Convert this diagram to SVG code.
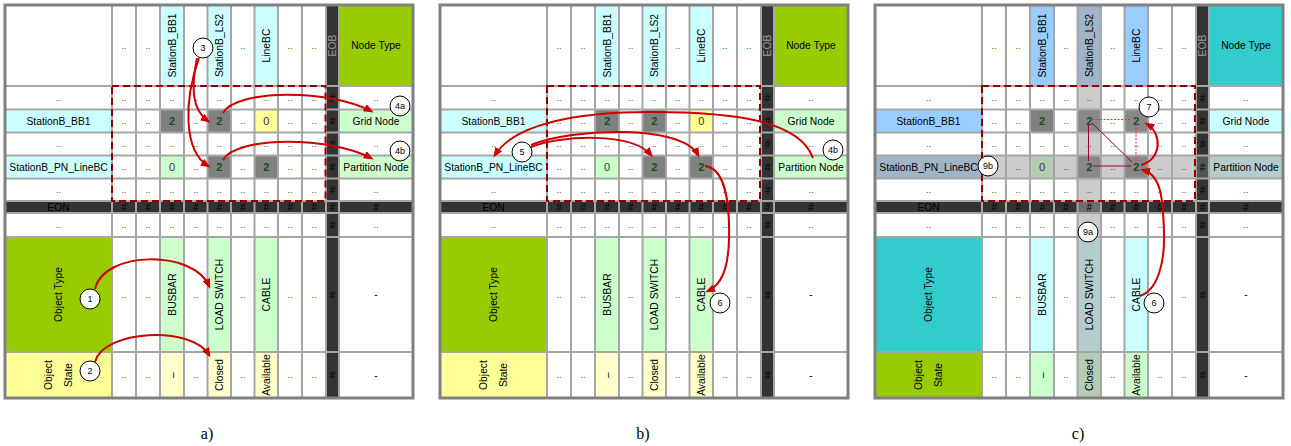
<svg xmlns="http://www.w3.org/2000/svg" width="1291" height="446" viewBox="0 0 1291 446">
<style>
text{font-family:"Liberation Sans",Arial,sans-serif;text-anchor:middle;dominant-baseline:central}
.t{font-size:10.3px;fill:#000}
.d{font-size:9px;fill:#444}
.h{font-size:10px;fill:#000}
.eob{fill:#999}
.n2{font-size:11px;font-weight:bold;fill:#1a4d1a}
.n0{font-size:11px;fill:#333}
.border{fill:none;stroke:#808080;stroke-width:3}
.dash{fill:none;stroke:#8b0000;stroke-width:2;stroke-dasharray:7 4}
.arr{fill:none;stroke:#cc0000;stroke-width:2;marker-end:url(#ah)}
.co circle{fill:#fff;stroke:#000;stroke-width:1}
.co text{font-size:9px;fill:#000}
.cap{font-family:"Liberation Serif","Times New Roman",serif;font-size:16px;fill:#000}
</style>
<defs>
<marker id="ah" markerWidth="10" markerHeight="8" refX="7" refY="4" orient="auto" markerUnits="userSpaceOnUse"><path d="M0,0 L10,4 L0,8 z" fill="#cc0000"/></marker>
<path id="gridpath" fill="none" stroke="#a6a6a6" stroke-width="2" d="M112,5V398M136,5V398M160,5V398M184,5V398M207.5,5V398M231,5V398M254.5,5V398M278,5V398M302,5V398M326,5V398M339,5V398M5,86H413M5,109.5H413M5,132.5H413M5,155.5H413M5,178.5H413M5,201H413M5,213H413M5,237H413M5,352H413"/>
</defs>

<!-- ===== Panel a ===== -->
<g id="panel-a">
<g id="a-fills">
<rect x="5" y="5" width="408" height="393" fill="#fff"/>
<rect x="160" y="5" width="24" height="81" fill="#ccffff"/>
<rect x="207.5" y="5" width="23.5" height="81" fill="#ccffff"/>
<rect x="254.5" y="5" width="23.5" height="81" fill="#ccffff"/>
<rect x="326" y="5" width="13" height="393" fill="#333"/>
<rect x="339" y="5" width="74" height="81" fill="#99cc00"/>
<rect x="5" y="109.5" width="107" height="23" fill="#ccffff"/>
<rect x="5" y="155.5" width="107" height="23" fill="#ccffff"/>
<rect x="160" y="109.5" width="24" height="23" fill="#808080"/>
<rect x="207.5" y="109.5" width="23.5" height="23" fill="#808080"/>
<rect x="254.5" y="109.5" width="23.5" height="23" fill="#ffff99"/>
<rect x="160" y="155.5" width="24" height="23" fill="#ccffcc"/>
<rect x="207.5" y="155.5" width="23.5" height="23" fill="#808080"/>
<rect x="254.5" y="155.5" width="23.5" height="23" fill="#808080"/>
<rect x="339" y="109.5" width="74" height="23" fill="#ccffcc"/>
<rect x="339" y="155.5" width="74" height="23" fill="#ccffcc"/>
<rect x="5" y="201" width="408" height="12" fill="#333"/>
<rect x="5" y="237" width="107" height="115" fill="#99cc00"/>
<rect x="160" y="237" width="24" height="115" fill="#ccffcc"/>
<rect x="207.5" y="237" width="23.5" height="115" fill="#ccffcc"/>
<rect x="254.5" y="237" width="23.5" height="115" fill="#ccffcc"/>
<rect x="5" y="352" width="107" height="46" fill="#ffff99"/>
<rect x="160" y="352" width="24" height="46" fill="#ffffcc"/>
<rect x="207.5" y="352" width="23.5" height="46" fill="#ffffcc"/>
<rect x="254.5" y="352" width="23.5" height="46" fill="#ffffcc"/>
</g>
<use href="#gridpath"/>
<rect class="border" x="5" y="5" width="408" height="393"/>
<g id="a-text">
<text class="d" y="45.5"><tspan x="124">..</tspan><tspan x="148">..</tspan><tspan x="195.75">..</tspan><tspan x="242.75">..</tspan><tspan x="290">..</tspan><tspan x="314">..</tspan></text>
<text class="t" x="172" y="45.5" transform="rotate(-90 172 45.5)">StationB_BB1</text>
<text class="t" x="219.25" y="45.5" transform="rotate(-90 219.25 45.5)">StationB_LS2</text>
<text class="t" x="266.25" y="45.5" transform="rotate(-90 266.25 45.5)">LineBC</text>
<text class="t eob" x="332.5" y="45.5" transform="rotate(-90 332.5 45.5)">EOB</text>
<text class="t" x="376" y="45.5">Node Type</text>
<text class="d" y="97.75"><tspan x="58.5">..</tspan><tspan x="124">..</tspan><tspan x="148">..</tspan><tspan x="172">..</tspan><tspan x="195.75">..</tspan><tspan x="219.25">..</tspan><tspan x="242.75">..</tspan><tspan x="266.25">..</tspan><tspan x="290">..</tspan><tspan x="314">..</tspan><tspan x="376">..</tspan></text>
<text class="d" y="144"><tspan x="58.5">..</tspan><tspan x="124">..</tspan><tspan x="148">..</tspan><tspan x="172">..</tspan><tspan x="195.75">..</tspan><tspan x="219.25">..</tspan><tspan x="242.75">..</tspan><tspan x="266.25">..</tspan><tspan x="290">..</tspan><tspan x="314">..</tspan><tspan x="376">..</tspan></text>
<text class="d" y="189.75"><tspan x="58.5">..</tspan><tspan x="124">..</tspan><tspan x="148">..</tspan><tspan x="172">..</tspan><tspan x="195.75">..</tspan><tspan x="219.25">..</tspan><tspan x="242.75">..</tspan><tspan x="266.25">..</tspan><tspan x="290">..</tspan><tspan x="314">..</tspan><tspan x="376">..</tspan></text>
<text class="d" y="225"><tspan x="58.5">..</tspan><tspan x="124">..</tspan><tspan x="148">..</tspan><tspan x="172">..</tspan><tspan x="195.75">..</tspan><tspan x="219.25">..</tspan><tspan x="242.75">..</tspan><tspan x="266.25">..</tspan><tspan x="290">..</tspan><tspan x="314">..</tspan><tspan x="376">..</tspan></text>
<text class="d" y="121"><tspan x="124">..</tspan><tspan x="148">..</tspan><tspan x="195.75">..</tspan><tspan x="242.75">..</tspan><tspan x="290">..</tspan><tspan x="314">..</tspan></text>
<text class="d" y="167"><tspan x="124">..</tspan><tspan x="148">..</tspan><tspan x="195.75">..</tspan><tspan x="242.75">..</tspan><tspan x="290">..</tspan><tspan x="314">..</tspan></text>
<text class="d" y="294.5"><tspan x="124">..</tspan><tspan x="148">..</tspan><tspan x="195.75">..</tspan><tspan x="242.75">..</tspan><tspan x="290">..</tspan><tspan x="314">..</tspan></text>
<text class="d" y="375"><tspan x="124">..</tspan><tspan x="148">..</tspan><tspan x="195.75">..</tspan><tspan x="242.75">..</tspan><tspan x="290">..</tspan><tspan x="314">..</tspan></text>
<text class="t" x="58.5" y="121">StationB_BB1</text>
<text class="n2" x="172" y="121">2</text>
<text class="n2" x="219.25" y="121">2</text>
<text class="n0" x="266.25" y="121">0</text>
<text class="t" x="376" y="121">Grid Node</text>
<text class="t" x="58.5" y="167">StationB_PN_LineBC</text>
<text class="n0" x="172" y="167">0</text>
<text class="n2" x="219.25" y="167">2</text>
<text class="n2" x="266.25" y="167">2</text>
<text class="t" x="376" y="167">Partition Node</text>
<text class="h"><tspan x="332.5" y="97.75">#</tspan><tspan x="332.5" y="121">#</tspan><tspan x="332.5" y="144">#</tspan><tspan x="332.5" y="167">#</tspan><tspan x="332.5" y="189.75">#</tspan><tspan x="332.5" y="225">#</tspan><tspan x="332.5" y="294.5">#</tspan><tspan x="332.5" y="375">#</tspan></text>
<text class="t" x="58.5" y="207">EON</text>
<text class="h" y="207"><tspan x="124">#</tspan><tspan x="148">#</tspan><tspan x="172">#</tspan><tspan x="195.75">#</tspan><tspan x="219.25">#</tspan><tspan x="242.75">#</tspan><tspan x="266.25">#</tspan><tspan x="290">#</tspan><tspan x="314">#</tspan><tspan x="332.5">#</tspan><tspan x="376">#</tspan></text>
<text class="t" x="58.5" y="294.5" transform="rotate(-90 58.5 294.5)">Object Type</text>
<text class="t" x="172" y="294.5" transform="rotate(-90 172 294.5)">BUSBAR</text>
<text class="t" x="219.25" y="294.5" transform="rotate(-90 219.25 294.5)">LOAD SWITCH</text>
<text class="t" x="266.25" y="294.5" transform="rotate(-90 266.25 294.5)">CABLE</text>
<text class="t" x="376" y="294.5">-</text>
<text class="t" x="48" y="375" transform="rotate(-90 48 375)">Object</text>
<text class="t" x="68" y="375" transform="rotate(-90 68 375)">State</text>
<text class="t" x="172" y="375" transform="rotate(-90 172 375)">–</text>
<text class="t" x="219.25" y="375" transform="rotate(-90 219.25 375)">Closed</text>
<text class="t" x="266.25" y="375" transform="rotate(-90 266.25 375)">Available</text>
<text class="t" x="376" y="375">-</text>
</g>
<rect class="dash" x="112" y="86" width="213.5" height="115"/>
</g>

<!-- ===== Panel b ===== -->
<g id="panel-b" transform="translate(435,0)">
<g id="b-fills">
<rect x="5" y="5" width="408" height="393" fill="#fff"/>
<rect x="160" y="5" width="24" height="81" fill="#ccffff"/>
<rect x="207.5" y="5" width="23.5" height="81" fill="#ccffff"/>
<rect x="254.5" y="5" width="23.5" height="81" fill="#ccffff"/>
<rect x="326" y="5" width="13" height="393" fill="#333"/>
<rect x="339" y="5" width="74" height="81" fill="#99cc00"/>
<rect x="5" y="109.5" width="107" height="23" fill="#ccffff"/>
<rect x="5" y="155.5" width="107" height="23" fill="#ccffff"/>
<rect x="160" y="109.5" width="24" height="23" fill="#808080"/>
<rect x="207.5" y="109.5" width="23.5" height="23" fill="#808080"/>
<rect x="254.5" y="109.5" width="23.5" height="23" fill="#ffff99"/>
<rect x="160" y="155.5" width="24" height="23" fill="#ccffcc"/>
<rect x="207.5" y="155.5" width="23.5" height="23" fill="#808080"/>
<rect x="254.5" y="155.5" width="23.5" height="23" fill="#808080"/>
<rect x="339" y="109.5" width="74" height="23" fill="#ccffcc"/>
<rect x="339" y="155.5" width="74" height="23" fill="#ccffcc"/>
<rect x="5" y="201" width="408" height="12" fill="#333"/>
<rect x="5" y="237" width="107" height="115" fill="#99cc00"/>
<rect x="160" y="237" width="24" height="115" fill="#ccffcc"/>
<rect x="207.5" y="237" width="23.5" height="115" fill="#ccffcc"/>
<rect x="254.5" y="237" width="23.5" height="115" fill="#ccffcc"/>
<rect x="5" y="352" width="107" height="46" fill="#ffff99"/>
<rect x="160" y="352" width="24" height="46" fill="#ffffcc"/>
<rect x="207.5" y="352" width="23.5" height="46" fill="#ffffcc"/>
<rect x="254.5" y="352" width="23.5" height="46" fill="#ffffcc"/>
</g>
<use href="#gridpath"/>
<rect class="border" x="5" y="5" width="408" height="393"/>
<g id="b-text">
<text class="d" y="45.5"><tspan x="124">..</tspan><tspan x="148">..</tspan><tspan x="195.75">..</tspan><tspan x="242.75">..</tspan><tspan x="290">..</tspan><tspan x="314">..</tspan></text>
<text class="t" x="172" y="45.5" transform="rotate(-90 172 45.5)">StationB_BB1</text>
<text class="t" x="219.25" y="45.5" transform="rotate(-90 219.25 45.5)">StationB_LS2</text>
<text class="t" x="266.25" y="45.5" transform="rotate(-90 266.25 45.5)">LineBC</text>
<text class="t eob" x="332.5" y="45.5" transform="rotate(-90 332.5 45.5)">EOB</text>
<text class="t" x="376" y="45.5">Node Type</text>
<text class="d" y="97.75"><tspan x="58.5">..</tspan><tspan x="124">..</tspan><tspan x="148">..</tspan><tspan x="172">..</tspan><tspan x="195.75">..</tspan><tspan x="219.25">..</tspan><tspan x="242.75">..</tspan><tspan x="266.25">..</tspan><tspan x="290">..</tspan><tspan x="314">..</tspan><tspan x="376">..</tspan></text>
<text class="d" y="144"><tspan x="58.5">..</tspan><tspan x="124">..</tspan><tspan x="148">..</tspan><tspan x="172">..</tspan><tspan x="195.75">..</tspan><tspan x="219.25">..</tspan><tspan x="242.75">..</tspan><tspan x="266.25">..</tspan><tspan x="290">..</tspan><tspan x="314">..</tspan><tspan x="376">..</tspan></text>
<text class="d" y="189.75"><tspan x="58.5">..</tspan><tspan x="124">..</tspan><tspan x="148">..</tspan><tspan x="172">..</tspan><tspan x="195.75">..</tspan><tspan x="219.25">..</tspan><tspan x="242.75">..</tspan><tspan x="266.25">..</tspan><tspan x="290">..</tspan><tspan x="314">..</tspan><tspan x="376">..</tspan></text>
<text class="d" y="225"><tspan x="58.5">..</tspan><tspan x="124">..</tspan><tspan x="148">..</tspan><tspan x="172">..</tspan><tspan x="195.75">..</tspan><tspan x="219.25">..</tspan><tspan x="242.75">..</tspan><tspan x="266.25">..</tspan><tspan x="290">..</tspan><tspan x="314">..</tspan><tspan x="376">..</tspan></text>
<text class="d" y="121"><tspan x="124">..</tspan><tspan x="148">..</tspan><tspan x="195.75">..</tspan><tspan x="242.75">..</tspan><tspan x="290">..</tspan><tspan x="314">..</tspan></text>
<text class="d" y="167"><tspan x="124">..</tspan><tspan x="148">..</tspan><tspan x="195.75">..</tspan><tspan x="242.75">..</tspan><tspan x="290">..</tspan><tspan x="314">..</tspan></text>
<text class="d" y="294.5"><tspan x="124">..</tspan><tspan x="148">..</tspan><tspan x="195.75">..</tspan><tspan x="242.75">..</tspan><tspan x="290">..</tspan><tspan x="314">..</tspan></text>
<text class="d" y="375"><tspan x="124">..</tspan><tspan x="148">..</tspan><tspan x="195.75">..</tspan><tspan x="242.75">..</tspan><tspan x="290">..</tspan><tspan x="314">..</tspan></text>
<text class="t" x="58.5" y="121">StationB_BB1</text>
<text class="n2" x="172" y="121">2</text>
<text class="n2" x="219.25" y="121">2</text>
<text class="n0" x="266.25" y="121">0</text>
<text class="t" x="376" y="121">Grid Node</text>
<text class="t" x="58.5" y="167">StationB_PN_LineBC</text>
<text class="n0" x="172" y="167">0</text>
<text class="n2" x="219.25" y="167">2</text>
<text class="n2" x="266.25" y="167">2</text>
<text class="t" x="376" y="167">Partition Node</text>
<text class="h"><tspan x="332.5" y="97.75">#</tspan><tspan x="332.5" y="121">#</tspan><tspan x="332.5" y="144">#</tspan><tspan x="332.5" y="167">#</tspan><tspan x="332.5" y="189.75">#</tspan><tspan x="332.5" y="225">#</tspan><tspan x="332.5" y="294.5">#</tspan><tspan x="332.5" y="375">#</tspan></text>
<text class="t" x="58.5" y="207">EON</text>
<text class="h" y="207"><tspan x="124">#</tspan><tspan x="148">#</tspan><tspan x="172">#</tspan><tspan x="195.75">#</tspan><tspan x="219.25">#</tspan><tspan x="242.75">#</tspan><tspan x="266.25">#</tspan><tspan x="290">#</tspan><tspan x="314">#</tspan><tspan x="332.5">#</tspan><tspan x="376">#</tspan></text>
<text class="t" x="58.5" y="294.5" transform="rotate(-90 58.5 294.5)">Object Type</text>
<text class="t" x="172" y="294.5" transform="rotate(-90 172 294.5)">BUSBAR</text>
<text class="t" x="219.25" y="294.5" transform="rotate(-90 219.25 294.5)">LOAD SWITCH</text>
<text class="t" x="266.25" y="294.5" transform="rotate(-90 266.25 294.5)">CABLE</text>
<text class="t" x="376" y="294.5">-</text>
<text class="t" x="48" y="375" transform="rotate(-90 48 375)">Object</text>
<text class="t" x="68" y="375" transform="rotate(-90 68 375)">State</text>
<text class="t" x="172" y="375" transform="rotate(-90 172 375)">–</text>
<text class="t" x="219.25" y="375" transform="rotate(-90 219.25 375)">Closed</text>
<text class="t" x="266.25" y="375" transform="rotate(-90 266.25 375)">Available</text>
<text class="t" x="376" y="375">-</text>
</g>
<rect class="dash" x="112" y="86" width="213" height="115"/>
</g>

<!-- ===== Panel c ===== -->
<g id="panel-c" transform="translate(870,0)">
<g id="c-fills">
<rect x="5" y="5" width="408" height="393" fill="#fff"/>
<rect x="160" y="5" width="24" height="81" fill="#99ccff"/>
<rect x="207.5" y="5" width="23.5" height="81" fill="#a0b4c8"/>
<rect x="254.5" y="5" width="23.5" height="81" fill="#99ccff"/>
<rect x="207.5" y="86" width="23.5" height="115" fill="#cccccc"/>
<rect x="207.5" y="213" width="23.5" height="24" fill="#cccccc"/>
<rect x="112" y="155.5" width="214" height="23" fill="#cccccc"/>
<rect x="326" y="5" width="13" height="393" fill="#333"/>
<rect x="339" y="5" width="74" height="81" fill="#33cccc"/>
<rect x="5" y="109.5" width="107" height="23" fill="#99ccff"/>
<rect x="5" y="155.5" width="107" height="23" fill="#a0b4c8"/>
<rect x="160" y="109.5" width="24" height="23" fill="#808080"/>
<rect x="207.5" y="109.5" width="23.5" height="23" fill="#888888"/>
<rect x="254.5" y="109.5" width="23.5" height="23" fill="#888888"/>
<rect x="160" y="155.5" width="24" height="23" fill="#b3ccb3"/>
<rect x="207.5" y="155.5" width="23.5" height="23" fill="#888888"/>
<rect x="254.5" y="155.5" width="23.5" height="23" fill="#888888"/>
<rect x="339" y="109.5" width="74" height="23" fill="#ccffff"/>
<rect x="339" y="155.5" width="74" height="23" fill="#b3cccc"/>
<rect x="5" y="201" width="408" height="12" fill="#333"/>
<rect x="207.5" y="201" width="23.5" height="12" fill="#6e6e6e"/>
<rect x="326" y="155.5" width="13" height="23" fill="#555"/>
<rect x="5" y="237" width="107" height="115" fill="#33cccc"/>
<rect x="160" y="237" width="24" height="115" fill="#ccffff"/>
<rect x="207.5" y="237" width="23.5" height="115" fill="#b3cccc"/>
<rect x="254.5" y="237" width="23.5" height="115" fill="#ccffff"/>
<rect x="5" y="352" width="107" height="46" fill="#99cc00"/>
<rect x="160" y="352" width="24" height="46" fill="#ccffcc"/>
<rect x="207.5" y="352" width="23.5" height="46" fill="#b3ccb3"/>
<rect x="254.5" y="352" width="23.5" height="46" fill="#ccffcc"/>
</g>
<use href="#gridpath"/>
<rect class="border" x="5" y="5" width="408" height="393"/>
<g id="c-text">
<text class="d" y="45.5"><tspan x="124">..</tspan><tspan x="148">..</tspan><tspan x="195.75">..</tspan><tspan x="242.75">..</tspan><tspan x="290">..</tspan><tspan x="314">..</tspan></text>
<text class="t" x="172" y="45.5" transform="rotate(-90 172 45.5)">StationB_BB1</text>
<text class="t" x="219.25" y="45.5" transform="rotate(-90 219.25 45.5)">StationB_LS2</text>
<text class="t" x="266.25" y="45.5" transform="rotate(-90 266.25 45.5)">LineBC</text>
<text class="t eob" x="332.5" y="45.5" transform="rotate(-90 332.5 45.5)">EOB</text>
<text class="t" x="376" y="45.5">Node Type</text>
<text class="d" y="97.75"><tspan x="58.5">..</tspan><tspan x="124">..</tspan><tspan x="148">..</tspan><tspan x="172">..</tspan><tspan x="195.75">..</tspan><tspan x="219.25">..</tspan><tspan x="242.75">..</tspan><tspan x="266.25">..</tspan><tspan x="290">..</tspan><tspan x="314">..</tspan><tspan x="376">..</tspan></text>
<text class="d" y="144"><tspan x="58.5">..</tspan><tspan x="124">..</tspan><tspan x="148">..</tspan><tspan x="172">..</tspan><tspan x="195.75">..</tspan><tspan x="219.25">..</tspan><tspan x="242.75">..</tspan><tspan x="266.25">..</tspan><tspan x="290">..</tspan><tspan x="314">..</tspan><tspan x="376">..</tspan></text>
<text class="d" y="189.75"><tspan x="58.5">..</tspan><tspan x="124">..</tspan><tspan x="148">..</tspan><tspan x="172">..</tspan><tspan x="195.75">..</tspan><tspan x="219.25">..</tspan><tspan x="242.75">..</tspan><tspan x="266.25">..</tspan><tspan x="290">..</tspan><tspan x="314">..</tspan><tspan x="376">..</tspan></text>
<text class="d" y="225"><tspan x="58.5">..</tspan><tspan x="124">..</tspan><tspan x="148">..</tspan><tspan x="172">..</tspan><tspan x="195.75">..</tspan><tspan x="242.75">..</tspan><tspan x="266.25">..</tspan><tspan x="290">..</tspan><tspan x="314">..</tspan><tspan x="376">..</tspan></text>
<text class="d" y="121"><tspan x="124">..</tspan><tspan x="148">..</tspan><tspan x="195.75">..</tspan><tspan x="242.75">..</tspan><tspan x="290">..</tspan><tspan x="314">..</tspan></text>
<text class="d" y="167"><tspan x="124">..</tspan><tspan x="148">..</tspan><tspan x="195.75">..</tspan><tspan x="242.75">..</tspan><tspan x="290">..</tspan><tspan x="314">..</tspan></text>
<text class="d" y="294.5"><tspan x="124">..</tspan><tspan x="148">..</tspan><tspan x="195.75">..</tspan><tspan x="242.75">..</tspan><tspan x="290">..</tspan><tspan x="314">..</tspan></text>
<text class="d" y="375"><tspan x="124">..</tspan><tspan x="148">..</tspan><tspan x="195.75">..</tspan><tspan x="242.75">..</tspan><tspan x="290">..</tspan><tspan x="314">..</tspan></text>
<text class="t" x="58.5" y="121">StationB_BB1</text>
<text class="n2" x="172" y="121">2</text>
<text class="n2" x="219.25" y="121">2</text>
<text class="n2" x="266.25" y="121">2</text>
<text class="t" x="376" y="121">Grid Node</text>
<text class="t" x="58.5" y="167">StationB_PN_LineBC</text>
<text class="n0" x="172" y="167">0</text>
<text class="n2" x="219.25" y="167">2</text>
<text class="n2" x="266.25" y="167">2</text>
<text class="t" x="376" y="167">Partition Node</text>
<text class="h"><tspan x="332.5" y="97.75">#</tspan><tspan x="332.5" y="121">#</tspan><tspan x="332.5" y="144">#</tspan><tspan x="332.5" y="167">#</tspan><tspan x="332.5" y="189.75">#</tspan><tspan x="332.5" y="225">#</tspan><tspan x="332.5" y="294.5">#</tspan><tspan x="332.5" y="375">#</tspan></text>
<text class="t" x="58.5" y="207">EON</text>
<text class="h" y="207"><tspan x="124">#</tspan><tspan x="148">#</tspan><tspan x="172">#</tspan><tspan x="195.75">#</tspan><tspan x="219.25">#</tspan><tspan x="242.75">#</tspan><tspan x="266.25">#</tspan><tspan x="290">#</tspan><tspan x="314">#</tspan><tspan x="332.5">#</tspan><tspan x="376">#</tspan></text>
<text class="t" x="58.5" y="294.5" transform="rotate(-90 58.5 294.5)">Object Type</text>
<text class="t" x="172" y="294.5" transform="rotate(-90 172 294.5)">BUSBAR</text>
<text class="t" x="219.25" y="294.5" transform="rotate(-90 219.25 294.5)">LOAD SWITCH</text>
<text class="t" x="266.25" y="294.5" transform="rotate(-90 266.25 294.5)">CABLE</text>
<text class="t" x="376" y="294.5">-</text>
<text class="t" x="48" y="375" transform="rotate(-90 48 375)">Object</text>
<text class="t" x="68" y="375" transform="rotate(-90 68 375)">State</text>
<text class="t" x="172" y="375" transform="rotate(-90 172 375)">–</text>
<text class="t" x="219.25" y="375" transform="rotate(-90 219.25 375)">Closed</text>
<text class="t" x="266.25" y="375" transform="rotate(-90 266.25 375)">Available</text>
<text class="t" x="376" y="375">-</text>
</g>
<rect class="dash" x="112" y="86" width="213" height="115"/>
</g>

<!-- ===== Connectors ===== -->
<g id="connectors">
<path class="arr" d="M197,58 C191,88 192,110 208,121"/>
<path class="arr" d="M199,58 C184,100 183,150 208,166"/>
<path class="arr" d="M223,113 C236,89 330,89 371,111"/>
<path class="arr" d="M223,160 C236,136 330,136 371,158"/>
<path class="arr" d="M95,289 C104,250 194,250 209,286"/>
<path class="arr" d="M95,362 C103,330 192,325 209,355"/>
<path class="arr" d="M813,158 C800,122 740,112 650,112 C580,112 515,123 495,155"/>
<path class="arr" d="M531,147 C560,135 632,132 651,155"/>
<path class="arr" d="M531,145 C572,128 682,124 698,155"/>
<path class="arr" d="M705,166 C724,168 730,200 729,240 C728,270 721,285 708,291"/>
<path d="M1093,119.5 H1131 M1136,124 V161" fill="none" stroke="#ff2a2a" stroke-width="1" stroke-dasharray="2 1.5"/>
<path d="M1088.5,125 V161 M1093,166 H1131 M1092,123 L1132,162" fill="none" stroke="#99003a" stroke-width="1"/>
<path class="arr" d="M1141,165 C1161,160 1163,134 1147,124"/>
<path class="arr" d="M1140,296 C1158,290 1165,262 1164,232 C1163,198 1161,175 1143,170"/>
</g>

<!-- ===== Callouts ===== -->
<g id="callout-a3" class="co"><circle cx="203" cy="48" r="10"/><text x="203" y="48">3</text></g>
<g id="callout-a4a" class="co"><circle cx="400" cy="106" r="10"/><text x="400" y="106">4a</text></g>
<g id="callout-a4b" class="co"><circle cx="400" cy="151" r="10"/><text x="400" y="151">4b</text></g>
<g id="callout-a1" class="co"><circle cx="90" cy="299" r="10"/><text x="90" y="299">1</text></g>
<g id="callout-a2" class="co"><circle cx="90" cy="371" r="10"/><text x="90" y="371">2</text></g>
<g id="callout-b4b" class="co"><circle cx="833" cy="150" r="10"/><text x="833" y="150">4b</text></g>
<g id="callout-b5" class="co"><circle cx="522" cy="152" r="10"/><text x="522" y="152">5</text></g>
<g id="callout-b6" class="co"><circle cx="720" cy="303" r="10"/><text x="720" y="303">6</text></g>
<g id="callout-c7" class="co"><circle cx="1149" cy="107" r="10"/><text x="1149" y="107">7</text></g>
<g id="callout-c6" class="co"><circle cx="1154" cy="303" r="10"/><text x="1154" y="303">6</text></g>
<g id="callout-c9a" class="co"><circle cx="1088" cy="232" r="10"/><text x="1088" y="232">9a</text></g>
<g id="callout-c9b" class="co"><circle cx="988" cy="166" r="10"/><text x="988" y="166">9b</text></g>

<g id="captions">
<text class="cap" x="207" y="433">a)</text>
<text class="cap" x="643" y="433">b)</text>
<text class="cap" x="1078" y="433">c)</text>
</g>
</svg>
